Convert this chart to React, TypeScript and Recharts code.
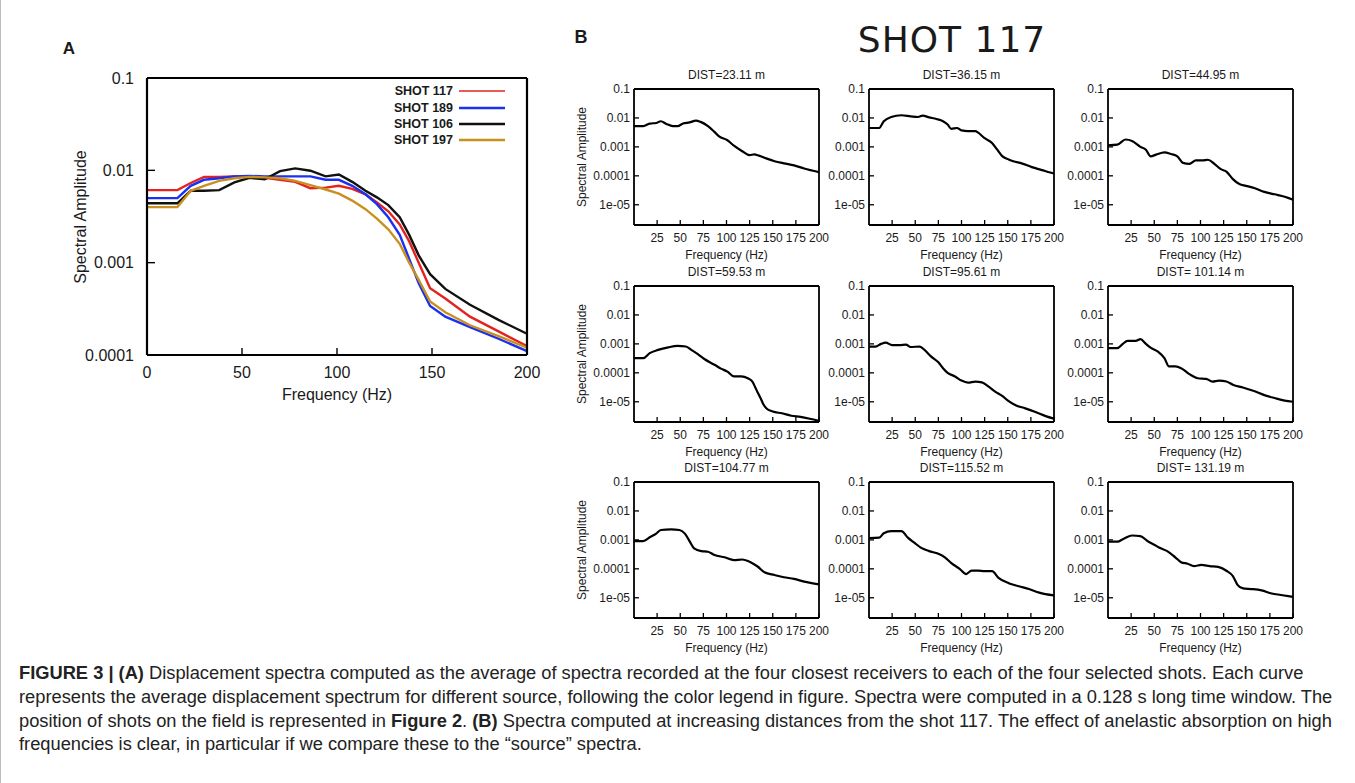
import React from "react";
import { LineChart, Line, XAxis, YAxis, Legend } from "recharts";

const FONT = '"Liberation Sans", Arial, Helvetica, sans-serif';
const INK = "#1a1a1a";

// ---------- panel A: average source spectra ----------
const freqA = [0, 16, 23, 30, 38, 46, 54, 62, 70, 78, 86, 94, 101, 108, 115, 121, 127, 133, 138, 143, 149, 157, 170, 185, 200];
const shot117 = [0.0061, 0.0061, 0.0073, 0.0085, 0.0085, 0.0086, 0.0086, 0.0083, 0.0079, 0.0075, 0.0064, 0.0065, 0.0068, 0.0063, 0.0055, 0.0045, 0.0036, 0.0026, 0.0017, 0.001, 0.00053, 0.00041, 0.00026, 0.00018, 0.000125];
const shot189 = [0.005, 0.005, 0.0068, 0.0079, 0.0082, 0.0086, 0.0087, 0.0086, 0.0086, 0.0086, 0.0086, 0.0079, 0.0079, 0.0068, 0.0055, 0.0043, 0.0031, 0.002, 0.0011, 0.0006, 0.00034, 0.00026, 0.0002, 0.00015, 0.00011];
const shot106 = [0.0044, 0.0044, 0.006, 0.006, 0.0061, 0.0074, 0.0083, 0.008, 0.0098, 0.0105, 0.0099, 0.0086, 0.009, 0.0075, 0.006, 0.0051, 0.0042, 0.0031, 0.002, 0.0012, 0.00075, 0.00052, 0.00035, 0.00024, 0.00017];
const shot197 = [0.004, 0.004, 0.006, 0.0068, 0.0077, 0.0082, 0.0085, 0.0084, 0.0082, 0.0077, 0.0069, 0.0062, 0.0056, 0.0047, 0.0038, 0.003, 0.0023, 0.0016, 0.001, 0.00065, 0.00038, 0.00029, 0.00021, 0.00016, 0.00012];
const shotKeys = ["s117", "s189", "s106", "s197"];
const shotNames = ["SHOT 117", "SHOT 189", "SHOT 106", "SHOT 197"];
const shotColors = ["#e3231f", "#1b30f0", "#111111", "#c8911f"];
const aXTicks = [0, 50, 100, 150, 200];
const aYTicks = [0.0001, 0.001, 0.01, 0.1];

// ---------- panel B: shot 117 at increasing distance ----------
const d2311Freq = [0, 10, 17, 24, 29, 35, 42, 47, 53, 60, 67, 72, 80, 87, 92, 101, 108, 117, 125, 130, 135, 143, 152, 162, 173, 184, 200];
const d2311Amp = [0.0052, 0.0052, 0.0064, 0.0067, 0.0077, 0.0062, 0.0052, 0.0052, 0.0064, 0.007, 0.0081, 0.0073, 0.0052, 0.0033, 0.0023, 0.0017, 0.0011, 0.00071, 0.00052, 0.00055, 0.0005, 0.0004, 0.00032, 0.00027, 0.00023, 0.00018, 0.000134];
const d3615Freq = [0, 11, 16, 24, 35, 45, 53, 58, 65, 73, 80, 85, 89, 95, 100, 107, 115, 118, 125, 133, 138, 144, 151, 156, 165, 176, 187, 196, 200];
const d3615Amp = [0.0045, 0.0045, 0.0077, 0.0108, 0.0124, 0.0114, 0.0108, 0.012, 0.0105, 0.0092, 0.0077, 0.0059, 0.0042, 0.0045, 0.0037, 0.0035, 0.0035, 0.0031, 0.002, 0.00137, 0.00085, 0.00048, 0.00037, 0.00032, 0.00027, 0.0002, 0.000158, 0.00013, 0.00012];
const d4495Freq = [0, 10, 19, 26, 35, 41, 46, 52, 61, 68, 75, 81, 88, 95, 102, 108, 115, 122, 128, 135, 142, 149, 158, 169, 180, 191, 200];
const d4495Amp = [0.00114, 0.0012, 0.0018, 0.0016, 0.001, 0.0008, 0.00047, 0.00054, 0.00065, 0.00057, 0.00047, 0.00028, 0.00026, 0.00034, 0.00034, 0.00036, 0.00026, 0.00017, 0.00014, 0.000077, 0.000052, 0.000045, 0.000038, 0.000028, 0.000023, 0.000019, 0.000015];
const d5953Freq = [0, 10, 17, 26, 37, 47, 56, 62, 69, 76, 87, 94, 101, 108, 116, 123, 128, 131, 134, 137, 140, 143, 150, 160, 170, 180, 190, 200];
const d5953Amp = [0.00032, 0.00032, 0.00048, 0.00062, 0.00076, 0.00085, 0.00081, 0.00062, 0.00044, 0.0003, 0.00019, 0.00014, 0.00011, 0.000075, 0.000075, 0.000065, 0.00005, 0.000032, 0.00002, 0.000013, 0.000008, 0.000006, 0.0000046, 0.000004, 0.0000033, 0.000003, 0.0000026, 0.0000022];
const d9561Freq = [0, 7, 13, 18, 25, 33, 40, 45, 55, 60, 67, 75, 80, 85, 93, 100, 107, 115, 122, 129, 136, 144, 151, 158, 169, 180, 191, 200];
const d9561Amp = [0.00081, 0.00081, 0.001, 0.0011, 0.00091, 0.0009, 0.00095, 0.00078, 0.00081, 0.00062, 0.00037, 0.00023, 0.000145, 0.0001, 0.000075, 0.000054, 0.000046, 0.00005, 0.000047, 0.000034, 0.000023, 0.000016, 0.0000105, 0.0000077, 0.0000059, 0.0000044, 0.0000032, 0.0000026];
const d10114Freq = [0, 10, 16, 21, 30, 35, 41, 46, 54, 61, 66, 73, 79, 88, 97, 106, 113, 120, 128, 135, 146, 157, 169, 180, 191, 200];
const d10114Amp = [0.00071, 0.00071, 0.001, 0.00127, 0.00127, 0.00145, 0.001, 0.00074, 0.00054, 0.00032, 0.000166, 0.000166, 0.000145, 0.00009, 0.000065, 0.000062, 0.00005, 0.000054, 0.00005, 0.000039, 0.000031, 0.000024, 0.000017, 0.0000135, 0.000011, 0.00001];
const d10477Freq = [0, 10, 17, 24, 29, 40, 49, 55, 60, 65, 73, 80, 87, 98, 108, 117, 126, 134, 141, 152, 162, 173, 184, 200];
const d10477Amp = [0.00091, 0.00091, 0.00123, 0.00165, 0.0022, 0.0023, 0.0022, 0.00165, 0.00091, 0.00051, 0.00041, 0.00039, 0.0003, 0.00025, 0.0002, 0.00021, 0.00017, 0.000118, 0.000076, 0.000061, 0.000051, 0.000045, 0.000036, 0.000029];
const d11552Freq = [0, 11, 16, 24, 35, 42, 49, 56, 65, 75, 82, 89, 98, 105, 111, 118, 125, 133, 140, 151, 162, 173, 184, 200];
const d11552Amp = [0.00116, 0.0012, 0.0017, 0.002, 0.002, 0.0012, 0.0008, 0.00054, 0.00041, 0.00033, 0.00025, 0.000158, 0.0001, 0.000066, 0.000087, 0.000087, 0.000083, 0.000083, 0.000049, 0.000032, 0.000025, 0.00002, 0.000015, 0.000012];
const d13119Freq = [0, 10, 17, 26, 35, 43, 50, 57, 64, 73, 79, 86, 93, 101, 110, 119, 128, 135, 140, 146, 155, 166, 177, 187, 200];
const d13119Amp = [0.00087, 0.00087, 0.0011, 0.00142, 0.00135, 0.0009, 0.00068, 0.00051, 0.00041, 0.000245, 0.00017, 0.00015, 0.000124, 0.000136, 0.000124, 0.000117, 0.000086, 0.000056, 0.000028, 0.000021, 0.00002, 0.000018, 0.000014, 0.0000125, 0.0000107];

const distTitles = ["DIST=23.11 m", "DIST=36.15 m", "DIST=44.95 m", "DIST=59.53 m", "DIST=95.61 m", "DIST= 101.14 m", "DIST=104.77 m", "DIST=115.52 m", "DIST= 131.19 m"];
const distFreqs = [d2311Freq, d3615Freq, d4495Freq, d5953Freq, d9561Freq, d10114Freq, d10477Freq, d11552Freq, d13119Freq];
const distAmps = [d2311Amp, d3615Amp, d4495Amp, d5953Amp, d9561Amp, d10114Amp, d10477Amp, d11552Amp, d13119Amp];
const bXTicks = [25, 50, 75, 100, 125, 150, 175, 200];
const bYTicks = [0.00001, 0.0001, 0.001, 0.01, 0.1];
const bYLabels = ["1e-05", "0.0001", "0.001", "0.01", "0.1"];

function minorTicks(lo: number, hi: number) {
  const out: number[] = [];
  for (let d = lo; d < hi * 0.99; d *= 10) for (let k = 2; k <= 9; k++) out.push(d * k);
  return out;
}
const aMinor = minorTicks(0.0001, 0.1);
const bMinor = minorTicks(0.000001, 0.1).filter((v) => v >= 2e-6 && v < 0.1);

function Txt({ x, y, size, children, bold, rotate, family, spacing }: any) {
  return (
    <div
      style={{
        position: "absolute",
        left: x,
        top: y,
        transform: `translate(-50%, -50%)${rotate ? ` rotate(${rotate}deg)` : ""}`,
        whiteSpace: "nowrap",
        fontSize: size,
        fontWeight: bold ? 700 : 400,
        fontFamily: family || FONT,
        letterSpacing: spacing || 0,
        color: INK,
        lineHeight: 1,
      }}
    >
      {children}
    </div>
  );
}

// frame ticks on top / right / minor: mirror axes sit on the plot edge, ticks point inward
function frameAxes(xDom: number[], xTicks: number[], yDom: number[], yTicks: number[], minor: number[], major: number, minorLen: number, sw: number) {
  return [
    <XAxis key="xt" xAxisId="xt" orientation="top" mirror type="number" domain={xDom} allowDataOverflow ticks={xTicks}
      interval={0} height={12} tickSize={major} tick={false} stroke="#000" axisLine={{ strokeWidth: sw }} tickLine={{ strokeWidth: 1.3 }} />,
    <YAxis key="ym" yAxisId="ym" mirror type="number" scale="log" domain={yDom} allowDataOverflow ticks={minor}
      interval={0} width={12} tickSize={minorLen} tick={false} axisLine={false} stroke="#000" />,
    <YAxis key="yr" yAxisId="yr" orientation="right" mirror type="number" scale="log" domain={yDom} allowDataOverflow
      ticks={yTicks} interval={0} width={12} tickSize={major} tick={false} stroke="#000" axisLine={{ strokeWidth: sw }} tickLine={{ strokeWidth: 1.3 }} />,
    <YAxis key="yrm" yAxisId="yrm" orientation="right" mirror type="number" scale="log" domain={yDom} allowDataOverflow
      ticks={minor} interval={0} width={12} tickSize={minorLen} tick={false} axisLine={false} stroke="#000" />,
  ];
}

const MT = 12, MR = 22, MB = 6, ML = 6;

function PanelA() {
  const px = 146, py = 78, pw = 380, ph = 277;
  const yw = 72, xh = 40;
  const rows = freqA.map((f, i) => ({ f, s117: shot117[i], s189: shot189[i], s106: shot106[i], s197: shot197[i] }));
  const W = pw + yw + ML + MR;
  const left = px - yw - ML, top = py - MT;
  return (
    <>
      <div style={{ position: "absolute", left, top }}>
        <LineChart width={W} height={ph + xh + MT + MB} data={rows} margin={{ top: MT, right: MR, bottom: MB, left: ML }}>
          <XAxis xAxisId="x" dataKey="f" type="number" domain={[0, 200]} allowDataOverflow ticks={aXTicks} interval={0}
            height={xh} tickSize={-7} tickMargin={19} stroke="#000" axisLine={{ strokeWidth: 2.2 }}
            tickLine={{ strokeWidth: 1.4 }} tick={{ fontSize: 16, fill: INK, fontFamily: FONT }} />
          <YAxis yAxisId="y" type="number" scale="log" domain={[0.0001, 0.1]} allowDataOverflow ticks={aYTicks} interval={0}
            width={yw} tickSize={-8} tickMargin={21} stroke="#000" axisLine={{ strokeWidth: 2.2 }}
            tickLine={{ strokeWidth: 1.4 }} tick={{ fontSize: 16, fill: INK, fontFamily: FONT }}
            tickFormatter={(v: number) => String(v)} />
          {frameAxes([0, 200], aXTicks, [0.0001, 0.1], aYTicks, aMinor, 8, 4, 2.2)}
          {shotKeys.map((k, i) => (
            <Line key={k} xAxisId="x" yAxisId="y" dataKey={k} name={shotNames[i]} type="linear" stroke={shotColors[i]}
              strokeWidth={2.4} dot={false} isAnimationActive={false} />
          ))}
          <Legend
            layout="vertical"
            align="center"
            verticalAlign="middle"
            wrapperStyle={{ left: "auto", right: W - (504 - left), top: 83 - top, width: "auto" }}
            content={() => (
              <div>
                {shotNames.map((n, i) => (
                  <div key={n} style={{ display: "flex", alignItems: "center", justifyContent: "flex-end", height: 16.4 }}>
                    <span style={{ fontFamily: FONT, fontWeight: 700, fontSize: 12.5, color: INK, marginRight: 6 }}>{n}</span>
                    <svg width={46} height={4}>
                      <line x1={0} x2={46} y1={2} y2={2} stroke={shotColors[i]} strokeWidth={i === 0 ? 1.4 : 2.6} />
                    </svg>
                  </div>
                ))}
              </div>
            )}
          />
        </LineChart>
      </div>
      <Txt x={68} y={48} size={17} bold>A</Txt>
      <Txt x={80} y={py + ph / 2} size={16} rotate={-90}>Spectral Amplitude</Txt>
      <Txt x={px + pw / 2} y={395} size={16}>Frequency (Hz)</Txt>
    </>
  );
}

function SpectrumPanel({ px, py, idx, yLabel }: any) {
  const pw = 185, ph = 136, yw = 50, xh = 24;
  const rows = distFreqs[idx].map((f: number, i: number) => ({ f, a: distAmps[idx][i] }));
  const dom = [0.000002, 0.1];
  const fmt = (v: number) => {
    const j = bYTicks.findIndex((t) => Math.abs(t - v) / t < 1e-6);
    return j >= 0 ? bYLabels[j] : "";
  };
  return (
    <>
      <div style={{ position: "absolute", left: px - yw - ML, top: py - MT }}>
        <LineChart width={pw + yw + ML + MR} height={ph + xh + MT + MB} data={rows} margin={{ top: MT, right: MR, bottom: MB, left: ML }}>
          <XAxis xAxisId="x" dataKey="f" type="number" domain={[0, 200]} allowDataOverflow ticks={bXTicks} interval={0}
            height={xh} tickSize={-5} tickMargin={13} stroke="#000" axisLine={{ strokeWidth: 1.8 }}
            tickLine={{ strokeWidth: 1.3 }} tick={{ fontSize: 12, fill: INK, fontFamily: FONT }} />
          <YAxis yAxisId="y" type="number" scale="log" domain={dom} allowDataOverflow ticks={bYTicks} interval={0}
            width={yw} tickSize={-5} tickMargin={9} stroke="#000" axisLine={{ strokeWidth: 1.8 }}
            tickLine={{ strokeWidth: 1.3 }} tick={{ fontSize: 12, fill: INK, fontFamily: FONT }} tickFormatter={fmt} />
          {frameAxes([0, 200], bXTicks, dom, bYTicks, bMinor, 5, 2.5, 1.8)}
          <Line xAxisId="x" yAxisId="y" dataKey="a" type="monotone" stroke="#000" strokeWidth={2.2} dot={false} isAnimationActive={false} />
        </LineChart>
      </div>
      <Txt x={px + pw / 2} y={py - 14} size={12}>{distTitles[idx]}</Txt>
      <Txt x={px + pw / 2} y={py + ph + 30} size={12}>Frequency (Hz)</Txt>
      {yLabel && <Txt x={581} y={py + ph / 2} size={12} rotate={-90}>Spectral Amplitude</Txt>}
    </>
  );
}

const colX = [633, 868, 1107];
const rowY = [89, 286, 482];

const captionLines: [string, boolean][][] = [
  [["FIGURE 3 | (A)", true], [" Displacement spectra computed as the average of spectra recorded at the four closest receivers to each of the four selected shots. Each curve", false]],
  [["represents the average displacement spectrum for different source, following the color legend in figure. Spectra were computed in a 0.128 s long time window. The", false]],
  [["position of shots on the field is represented in ", false], ["Figure 2", true], [". ", false], ["(B)", true], [" Spectra computed at increasing distances from the shot 117. The effect of anelastic absorption on high", false]],
  [["frequencies is clear, in particular if we compare these to the \u201csource\u201d spectra.", false]],
];

export default function App() {
  return (
    <div
      style={{
        position: "absolute",
        left: 0,
        top: 0,
        width: 1355,
        height: 783,
        background: "#fff",
        overflow: "hidden",
        fontFamily: FONT,
        borderLeft: "1px solid #bdbdbd",
        boxSizing: "border-box",
      }}
    >
      <PanelA />
      <Txt x={580} y={37} size={18} bold>B</Txt>
      <Txt x={951} y={40} size={36} spacing={1} family='"DejaVu Sans", sans-serif'>SHOT 117</Txt>
      {distTitles.map((t, i) => (
        <SpectrumPanel key={t} px={colX[i % 3]} py={rowY[Math.floor(i / 3)]} idx={i} yLabel={i % 3 === 0} />
      ))}
      <div style={{ position: "absolute", left: 18, top: 661, fontSize: 18.3, lineHeight: "23.8px", color: "#222", fontFamily: FONT }}>
        {captionLines.map((line, i) => (
          <div key={i} style={{ whiteSpace: "nowrap" }}>
            {line.map(([s, b], j) => (
              <span key={j} style={{ fontWeight: b ? 700 : 400 }}>{s}</span>
            ))}
          </div>
        ))}
      </div>
    </div>
  );
}
